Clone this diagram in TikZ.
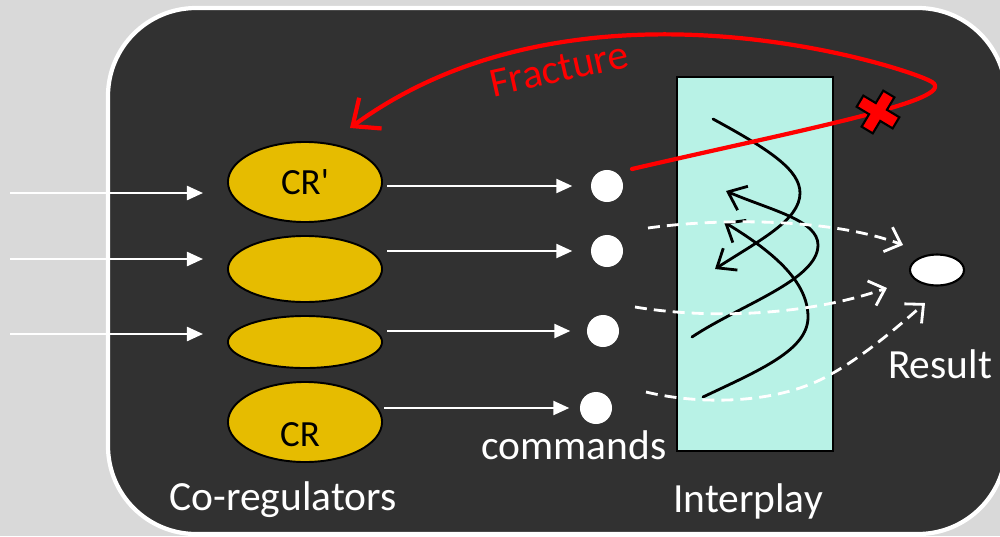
\documentclass[tikz,border=0pt]{standalone}
\usepackage{fontspec}
\setmainfont{Carlito}[Ligatures=TeXOff]
\usetikzlibrary{arrows.meta,shapes.geometric}
\definecolor{pagegray}{HTML}{D9D9D9}
\definecolor{panel}{HTML}{313131}
\definecolor{crgold}{HTML}{E6BC00}
\definecolor{mint}{HTML}{B8F2E6}
\definecolor{fracred}{HTML}{FF0000}

\begin{document}
\begin{tikzpicture}[x=0.01cm,y=-0.01cm,
  crnode/.style={ellipse, draw=black, line width=0.55pt, fill=crgold, minimum width=1.54cm, inner sep=0pt,
                 font=\fontsize{10.5}{12}\selectfont},
  dot/.style={circle, fill=white, minimum size=0.32cm, inner sep=0pt},
  lbl/.style={text=white, font=\fontsize{11.8}{14}\selectfont, inner sep=0pt, anchor=base},
  feed/.style={white, line width=0.65pt, -{Triangle[length=0.16cm,width=0.14cm]}},
  weave/.style={black, line width=0.8pt, line cap=round, -{Straight Barb[length=0.16cm,width=0.26cm]}},
  flow/.style={white, line width=0.8pt, dash pattern=on 3.4pt off 2pt,
               -{Straight Barb[length=0.14cm,width=0.26cm]}},
]
% page and rounded panel
\fill[pagegray] (0,0) rectangle (1000,536);
\clip (0,0) rectangle (1000,536);
\draw[white, line width=1.2pt, fill=panel, rounded corners=0.88cm] (108,8) rectangle (1006,534);

% co-regulators
\node[crnode, minimum height=0.80cm] (e1) at (305,182) {CR'};
\node[crnode, minimum height=0.66cm] (e2) at (305,269) {};
\node[crnode, minimum height=0.52cm] (e3) at (305,342) {};
\node[crnode, minimum height=0.80cm] (e4) at (305,422) {};
\node[font=\fontsize{10.5}{12}\selectfont, inner sep=0pt, anchor=base] (crtag) at (300,446) {CR};

% command dots
\node[dot] (d1) at (607,186) {};
\node[dot] (d2) at (607,251) {};
\node[dot] (d3) at (603,331) {};
\node[dot] (d4) at (596,408) {};

% interplay box and result
\node[draw=black, line width=0.6pt, fill=mint, minimum width=1.56cm, minimum height=3.74cm, inner sep=0pt]
  (play) at (755,264) {};
\node[ellipse, draw=black, line width=0.6pt, fill=white, minimum width=0.54cm, minimum height=0.31cm, inner sep=0pt]
  (res) at (937,270) {};

% labels
\node[lbl] (lcoreg) at (283,510) {Co-regulators};
\node[lbl] (lcmd) at (574,459) {commands};
\node[lbl] (lplay) at (748,512) {Interplay};
\node[lbl] (lres) at (940,378) {Result};

% incoming signals
\coordinate (s1) at (10,193); \coordinate (t1) at (203,193);
\coordinate (s2) at (10,259); \coordinate (t2) at (203,259);
\coordinate (s3) at (10,334); \coordinate (t3) at (203,334);
\draw[feed] (s1) -- (t1);
\draw[feed] (s2) -- (t2);
\draw[feed] (s3) -- (t3);

% commands issued
\draw[feed, shorten <=0.04cm, shorten >=0.18cm] (e1.east |- d1) -- (d1);
\draw[feed, shorten <=0.04cm, shorten >=0.18cm] (e2.east |- d2) -- (d2);
\draw[feed, shorten <=0.04cm, shorten >=0.16cm] (e3.east |- d3) -- (d3);
\draw[feed, shorten <=0.01cm, shorten >=0.10cm] (e4.east |- d4) -- (d4);

% interplay of commands
\coordinate (wa) at (713,119); \coordinate (wam) at (800,193); \coordinate (wat) at (715,269);
\coordinate (wb) at (692,337); \coordinate (wbm) at (818,245); \coordinate (wbt) at (726,191);
\coordinate (wc) at (703,397); \coordinate (wcm) at (808,317); \coordinate (wct) at (724,222);
\draw[weave] (wa) .. controls (770,150) and (800,170) .. (wam) .. controls (800,220) and (760,240) .. (wat);
\draw[weave] (wb) .. controls (740,305) and (818,280) .. (wbm) .. controls (818,220) and (770,210) .. (wbt);
\draw[weave] (wc) .. controls (760,370) and (808,350) .. (wcm) .. controls (808,280) and (770,250) .. (wct);

% flows towards the result
\coordinate (f1) at (648,228); \coordinate (r1) at (903,245);
\coordinate (f2) at (635,307); \coordinate (r2) at (887,288);
\coordinate (f3) at (646,392); \coordinate (f3m) at (833,373); \coordinate (r3) at (925,303);
\draw[flow] (f1) .. controls (720,218) and (830,218) .. (r1);
\draw[flow] (f2) .. controls (700,318) and (800,318) .. (r2);
\draw[flow] (f3) .. controls (700,405) and (780,405) .. (f3m) .. controls (865,355) and (900,325) .. (r3);

% fracture feedback
\coordinate (fs) at (632,169);
\coordinate (fturn) at (932,82);
\coordinate (ftip) at (350,128);
\draw[fracred, line width=1.2pt, line cap=round, -{Straight Barb[length=0.22cm,width=0.38cm]}]
  (fs) .. controls (800,130) and (960,100) .. (fturn) .. controls (910,68) and (580,-40) .. (ftip);
\node[text=fracred, font=\fontsize{11.8}{14}\selectfont, rotate=12.5, inner sep=0pt] (lfrac) at (559,69) {Fracture};

% broken link mark
\begin{scope}[shift={(878,112)}, rotate=-31]
  \filldraw[fill=fracred, draw=black, line width=0.6pt]
    (6.5,6.5) -- (21,6.5) -- (21,-6.5) -- (6.5,-6.5) -- (6.5,-21) -- (-6.5,-21) -- (-6.5,-6.5) -- (-21,-6.5)
    -- (-21,6.5) -- (-6.5,6.5) -- (-6.5,21) -- (6.5,21) -- cycle;
\end{scope}
\end{tikzpicture}
\end{document}
